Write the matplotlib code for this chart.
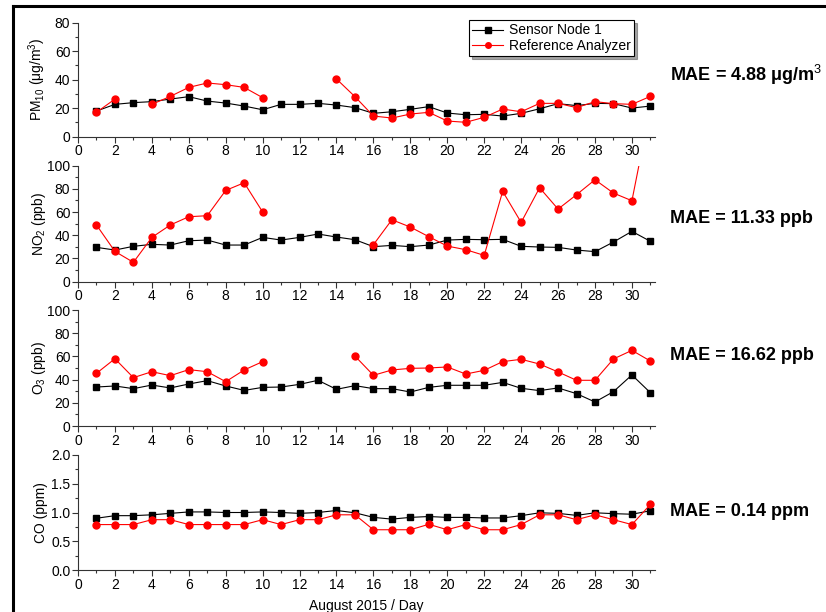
import numpy as np
import matplotlib
matplotlib.use("Agg")
import matplotlib.pyplot as plt
from matplotlib.lines import Line2D
from matplotlib.ticker import MultipleLocator

plt.rcParams['font.family'] = ['Liberation Sans', 'DejaVu Sans']
plt.rcParams['mathtext.fontset'] = 'custom'
plt.rcParams['mathtext.rm'] = 'Liberation Sans'
plt.rcParams['mathtext.it'] = 'Liberation Sans:italic'
plt.rcParams['mathtext.bf'] = 'Liberation Sans:bold'

days = np.arange(1, 32)
nan = np.nan

pm10_sensor = [18.0, 22.7, 23.9, 24.6, 26.4, 28.1, 25.0, 23.6, 21.5, 18.9,
               22.7, 22.7, 23.4, 22.2, 20.4, 16.4, 17.5, 19.2, 21.1, 16.6,
               15.4, 15.7, 14.5, 16.4, 19.6, 23.2, 21.8, 23.4, 23.2, 20.1, 21.5]
pm10_ref = [17.1, 26.4, nan, 22.7, 28.3, 34.6, 37.7, 36.5, 34.6, 27.4,
            nan, nan, nan, 40.5, 28.1, 14.5, 13.1, 15.9, 17.1, 11.0,
            10.1, 13.6, 19.4, 17.5, 23.4, 23.4, 20.4, 24.6, 23.2, 22.7, 28.3]

no2_sensor = [29.6, 27.3, 30.5, 32.2, 31.6, 35.3, 35.9, 31.6, 31.6, 38.2,
              35.9, 38.2, 41.1, 38.5, 36.2, 30.2, 31.3, 30.2, 31.6, 35.9,
              36.5, 36.2, 36.5, 30.5, 29.9, 29.6, 27.3, 25.9, 34.2, 43.4, 34.8]
no2_ref = [48.9, 26.1, 16.7, 38.2, 48.9, 56.0, 56.9, 78.7, 85.3, 60.1,
           nan, nan, nan, nan, nan, 31.9, 53.4, 47.1, 38.8, 30.7,
           27.6, 22.7, 77.9, 51.1, 81.0, 62.6, 75.0, 87.9, 76.4, 69.8, 150.0]

o3_sensor = [33.6, 34.5, 32.2, 35.3, 32.8, 36.2, 39.1, 34.5, 30.7, 33.3,
             33.6, 35.9, 39.4, 31.6, 34.8, 32.2, 32.2, 29.3, 33.3, 35.1,
             35.1, 35.1, 37.6, 32.5, 30.5, 32.8, 27.9, 20.7, 29.6, 44.0, 28.7]
o3_ref = [45.4, 58.0, 41.7, 46.8, 43.4, 48.6, 46.8, 38.2, 48.3, 55.5,
          nan, nan, nan, nan, 60.3, 43.7, 48.3, 49.7, 50.0, 50.9,
          44.8, 48.0, 55.5, 57.5, 53.4, 46.6, 39.4, 39.4, 57.8, 65.2, 56.0]

co_sensor = [0.90, 0.945, 0.945, 0.96, 0.985, 1.01, 1.01, 1.0, 1.0, 1.01,
             1.0, 0.985, 1.0, 1.035, 0.995, 0.915, 0.885, 0.915, 0.93, 0.915,
             0.915, 0.905, 0.905, 0.945, 0.995, 0.985, 0.95, 0.995, 0.98, 0.97, 1.03]
co_ref = [0.79, 0.79, 0.79, 0.875, 0.875, 0.79, 0.79, 0.79, 0.79, 0.875,
          0.79, 0.875, 0.875, 0.96, 0.96, 0.70, 0.70, 0.70, 0.795, 0.70,
          0.79, 0.70, 0.70, 0.79, 0.96, 0.96, 0.875, 0.96, 0.875, 0.79, 1.14]

ylabels = ["PM$_{10}$ (μg/m$^3$)", "NO$_2$ (ppb)", "O$_3$ (ppb)", "CO (ppm)"]
mae_texts = ["MAE = 4.88 μg/m$^3$", "MAE = 11.33 ppb", "MAE = 16.62 ppb", "MAE = 0.14 ppm"]
ylims = [(0, 80), (0, 100), (0, 100), (0, 2.0)]
ymajor = [20, 20, 20, 0.5]
sensors = [pm10_sensor, no2_sensor, o3_sensor, co_sensor]
refs = [pm10_ref, no2_ref, o3_ref, co_ref]

fig = plt.figure(figsize=(8.26, 6.12), dpi=100)

W, H = 826.0, 612.0
left, right = 78 / W, 655 / W
panels = [(22.7, 136.7), (165.7, 281.7), (310, 426), (455, 570)]
mae_y = [75, 218, 355, 512]

axes = []
for i in range(4):
    top_px, bot_px = panels[i]
    ax = fig.add_axes([left, 1 - bot_px / H, right - left, (bot_px - top_px) / H])
    axes.append(ax)
    ax.plot(days, sensors[i], '-s', color='black', lw=0.8, ms=4.5,
            label='Sensor Node 1', zorder=3)
    ax.plot(days, refs[i], '-o', color='red', lw=0.8, ms=5,
            label='Reference Analyzer', zorder=4)
    ax.set_xlim(0, 31.25)
    ax.set_ylim(*ylims[i])
    ax.xaxis.set_major_locator(MultipleLocator(2))
    ax.xaxis.set_minor_locator(MultipleLocator(1))
    ax.yaxis.set_major_locator(MultipleLocator(ymajor[i]))
    ax.yaxis.set_minor_locator(MultipleLocator(ymajor[i] / 2))
    if i == 3:
        ax.yaxis.set_major_formatter(plt.FormatStrFormatter('%.1f'))
    ax.spines['top'].set_visible(False)
    ax.spines['right'].set_visible(False)
    for s in ('left', 'bottom'):
        ax.spines[s].set_linewidth(0.8)
        ax.spines[s].set_color('#333333')
    ax.tick_params(which='major', direction='out', length=4, width=0.8,
                   labelsize=10, pad=1.5, color='#333333')
    ax.tick_params(which='minor', direction='out', length=2.5, width=0.8,
                   color='#333333')
    ax.set_ylabel(ylabels[i], fontsize=10)
    ax.yaxis.set_label_coords(-0.052, 0.5)
    fig.text(670 / W, 1 - mae_y[i] / H, mae_texts[i], fontsize=13,
             fontweight='bold', va='center', ha='left')

axes[3].set_xlabel('August 2015 / Day', fontsize=10, labelpad=5)

leg = axes[0].legend(loc='upper left', bbox_to_anchor=(469 / W, 1 - 20 / H),
                     bbox_transform=fig.transFigure, fontsize=10,
                     frameon=True, fancybox=False, shadow=True,
                     edgecolor='black', handlelength=2.2, handletextpad=0.4,
                     borderpad=0.25, labelspacing=0.1, borderaxespad=0)
leg.get_frame().set_linewidth(0.8)
leg.get_frame().set_alpha(1)
for h in leg.legend_handles:
    h.set_markersize(4)

# outer frame (left and top edges)
fig.add_artist(Line2D([13 / W, 13 / W], [0, 1 - 6 / H], color='black', lw=2.2,
                      transform=fig.transFigure))
fig.add_artist(Line2D([13 / W, 1], [1 - 6 / H, 1 - 6 / H], color='black', lw=2.2,
                      transform=fig.transFigure))

fig.savefig('out.png', dpi=100)
